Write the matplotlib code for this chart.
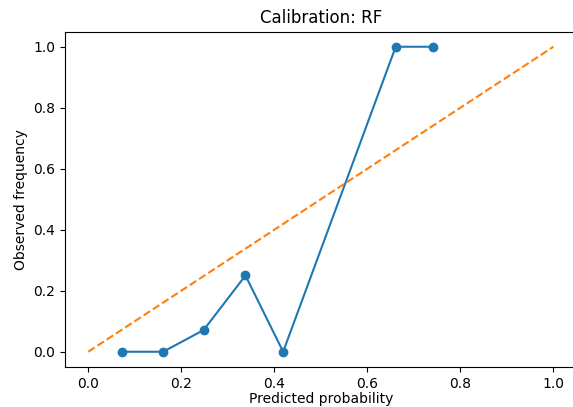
import numpy as np
import matplotlib as mpl
mpl.use('Agg')
import matplotlib.pyplot as plt

# calibration curve values
prob_pred = [0.073, 0.161, 0.248, 0.338, 0.419, 0.661, 0.741]
prob_true = [0.0, 0.0, 0.071, 0.25, 0.0, 1.0, 1.0]
diag = [0, 1]

fig = plt.figure(figsize=(5.73, 4.07), dpi=100)
ax = fig.add_axes([0.1134, 0.0983, 0.893, 0.8243])

ax.plot(prob_pred, prob_true, marker='o')
ax.plot(diag, diag, linestyle='--')

ax.set_xlabel('Predicted probability', labelpad=1)
ax.set_ylabel('Observed frequency')
ax.set_title('Calibration: RF')

fig.savefig('out.png', dpi=100)
